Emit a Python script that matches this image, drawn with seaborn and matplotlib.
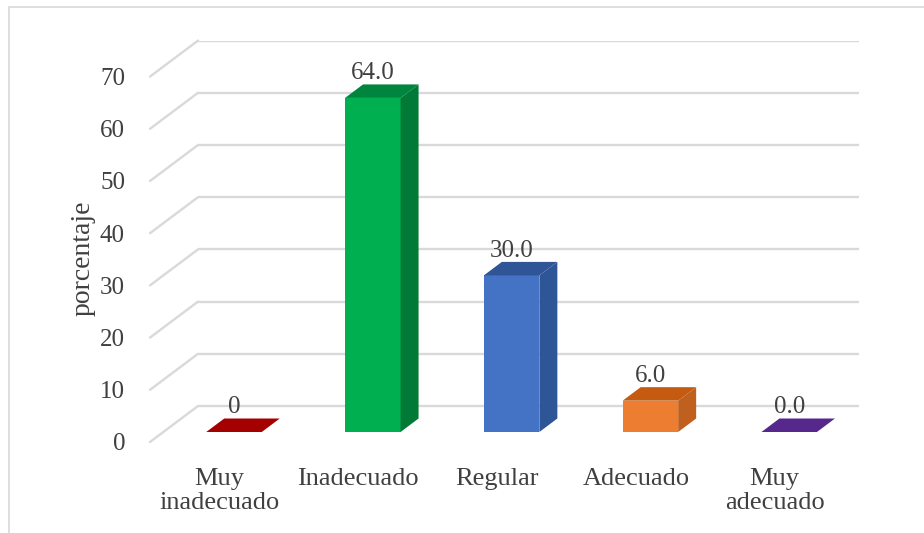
import matplotlib
matplotlib.use("Agg")
import matplotlib.pyplot as plt
import matplotlib.transforms as mtransforms
from matplotlib.patches import Polygon, Rectangle
import seaborn as sns
import pandas as pd

# ---- data ----
categories = ["Muy\ninadecuado", "Inadecuado", "Regular", "Adecuado", "Muy\nadecuado"]
values = [0.0, 64.0, 30.0, 6.0, 0.0]
value_labels = ["0", "64.0", "30.0", "6.0", "0.0"]
y_ticks = [0, 10, 20, 30, 40, 50, 60, 70]

# ---- style ----
front_colors = ["#A00000", "#00B050", "#4472C4", "#ED7D31", "#6A32A0"]
side_colors = ["#8A0000", "#007A36", "#2E5596", "#C0601F", "#55268A"]
top_colors = ["#A50000", "#00853E", "#2F5597", "#C55A11", "#56288C"]
text_color = "#404040"
grid_color = "#D9D9D9"

sns.set_theme(style="white")
plt.rcParams["font.family"] = ["Liberation Serif", "DejaVu Serif"]

DPI = 100
fig = plt.figure(figsize=(9.24, 5.33), dpi=DPI)
ax = fig.add_axes([164.6 / 924, 101 / 533, 694 / 924, 75 * 5.22 / 533])

df = pd.DataFrame({"cat": categories, "val": values})
sns.barplot(data=df, x="cat", y="val", hue="cat", palette=front_colors,
            legend=False, width=0.4, saturation=1, ax=ax, zorder=3,
            linewidth=0)
ax.set_xlim(-0.5, 4.5)
ax.set_ylim(0, 75)
for s in ax.spines.values():
    s.set_visible(False)
ax.set_facecolor("none")

# depth offsets in pixels (display coords, y up)
BACK = (33.4, 26.0)      # back wall relative to bar front plane
FRONT = (-14.6, -10.0)   # floor front edge relative to bar front plane
DEPTH = (18.0, 13.5)     # bar depth

back_tr = mtransforms.offset_copy(ax.transData, fig, x=BACK[0], y=BACK[1], units="dots")

# back wall gridlines
for t in y_ticks:
    ax.plot([-0.5, 4.5], [t, t], color=grid_color, lw=1.7, transform=back_tr,
            zorder=0, solid_capstyle="butt")

# left wall diagonals
inv = ax.transData.inverted()
for t in y_ticks:
    p = ax.transData.transform((-0.5, t))
    a = inv.transform((p[0] + FRONT[0], p[1] + FRONT[1]))
    b = inv.transform((p[0] + BACK[0], p[1] + BACK[1]))
    ax.plot([a[0], b[0]], [a[1], b[1]], color=grid_color, lw=1.7, zorder=0,
            clip_on=False)

# 3D faces of bars
patches = sorted(ax.patches, key=lambda p: p.get_x())
for i, p in enumerate(patches):
    x0, w, h = p.get_x(), p.get_width(), p.get_height()
    fl = ax.transData.transform((x0, h))
    fr = ax.transData.transform((x0 + w, h))
    br = ax.transData.transform((x0 + w, 0))
    dx, dy = DEPTH
    top = [fl, fr, (fr[0] + dx, fr[1] + dy), (fl[0] + dx, fl[1] + dy)]
    side = [fr, br, (br[0] + dx, br[1] + dy), (fr[0] + dx, fr[1] + dy)]
    if h > 0:
        ax.add_patch(Polygon(inv.transform(side), closed=True, fc=side_colors[i],
                             ec="none", zorder=3))
    ax.add_patch(Polygon(inv.transform(top), closed=True, fc=top_colors[i],
                         ec="none", zorder=3))

# value labels
for cont in ax.containers:
    for bar in cont:
        idx = int(round(bar.get_x() + bar.get_width() / 2))
        ax.annotate(value_labels[idx], (bar.get_x() + bar.get_width() / 2, bar.get_height()),
                    xytext=(0, 10), textcoords="offset points", ha="center", va="bottom",
                    fontsize=18, color=text_color, zorder=5)

# axis ticks/labels
ax.set_yticks(y_ticks)
ax.set_yticklabels([str(t) for t in y_ticks])
ax.tick_params(axis="y", length=0, pad=18, labelsize=18, labelcolor=text_color)
ax.tick_params(axis="x", length=0, pad=18.5, labelsize=19, labelcolor=text_color)
shift = mtransforms.Affine2D().translate(FRONT[0], FRONT[1])
for lbl in ax.get_yticklabels():
    lbl.set_transform(lbl.get_transform() + shift)
for lbl in ax.get_xticklabels():
    lbl.set_transform(lbl.get_transform() + shift)
    lbl.set_linespacing(1.15)
ax.set_xlabel("")
ax.set_ylabel("porcentaje", fontsize=20, color=text_color)
ax.yaxis.set_label_coords(-0.1, 0.444)

# outer border
fig.patches.append(Rectangle((9 / 924, -0.05), 1.2, (533 - 7) / 533 + 0.05,
                             transform=fig.transFigure, fill=False,
                             ec=grid_color, lw=1.2))

fig.savefig("out.png", dpi=DPI)
